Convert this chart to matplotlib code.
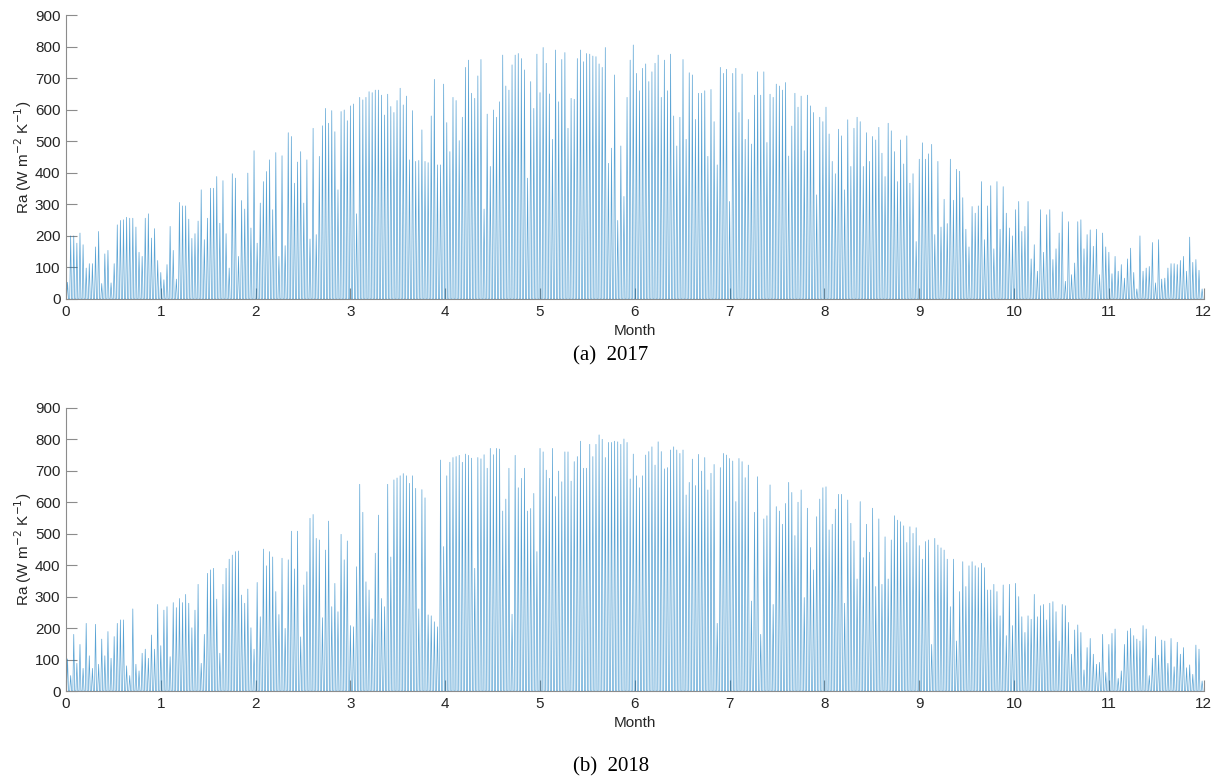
import numpy as np
import matplotlib
matplotlib.use("Agg")
import matplotlib.pyplot as plt

# daily peak of Ra (W m-2 K-1), one value per day
ra_2017 = [
    53, 200, 200, 177, 209, 172, 98, 112, 112, 165, 214, 49, 143, 154, 51, 112, 235, 249, 251, 259,
    256, 256, 228, 148, 135, 256, 270, 193, 223, 122, 84, 61, 109, 230, 154, 63, 306, 295, 295, 253,
    192, 207, 247, 346, 188, 256, 351, 351, 388, 240, 375, 207, 98, 397, 383, 135, 312, 285, 399, 225,
    470, 177,
    304, 372, 404, 441, 283, 464, 135, 454, 169, 527, 515, 367, 434, 467, 304, 441, 190, 541, 204, 452,
    549, 604, 557, 597, 530, 346, 594, 599, 565, 612, 618, 270, 639, 631, 639, 657, 654, 662, 662, 646,
    583, 649, 610, 591, 629, 668, 615, 643, 441, 597, 436, 439, 536, 436, 432, 580, 696, 425, 425, 681,
    559,
    467, 639, 629, 502, 576, 734, 757, 652, 636, 707, 759, 285, 586, 420, 599, 576, 625, 773, 675, 662,
    742, 773, 778, 762, 726, 383, 689, 604, 776, 654, 797, 747, 650, 506, 789, 625, 759, 781, 541, 636,
    633, 762, 789, 752, 778, 776, 770, 768, 745, 734, 797, 430, 478, 710, 249, 485, 325, 639, 757, 805,
    715,
    660, 731, 745, 689, 720, 747, 773, 639, 757, 660, 776, 580, 485, 576, 759, 506, 717, 710, 569, 652,
    652, 660, 452, 664, 562, 425, 734, 715, 728, 309, 715, 731, 591, 713, 506, 569, 491, 646, 720, 646,
    720, 496, 649, 639, 681, 675, 662, 686, 453, 548, 652, 608, 643, 470, 646, 612, 591, 330, 576, 562,
    608,
    523, 436, 397, 538, 517, 346, 568, 420, 541, 576, 562, 420, 527, 436, 515, 504, 544, 462, 388, 557,
    533, 467, 372, 504, 428, 517, 367, 397, 182, 443, 495, 443, 460, 490, 204, 436, 228, 316, 239, 443,
    313, 411, 405, 321, 221, 165, 293, 272, 295, 372, 188, 295, 359, 159, 372, 221, 356, 272, 225, 200,
    283,
    309, 214, 230, 309, 127, 172, 88, 283, 148, 267, 283, 125, 159, 209, 276, 56, 245, 77, 114, 245,
    251, 159, 204, 219, 167, 221, 77, 209, 165, 148, 80, 135, 88, 109, 66, 127, 161, 84, 32, 200,
    88, 98, 103, 179, 51, 188, 63, 66, 98, 112, 112, 109, 122, 135, 88, 196, 116, 125, 91, 32,
]

ra_2018 = [
    102, 49, 180, 88, 148, 72, 215, 112, 72, 212, 85, 165, 112, 189, 104, 173, 215, 226, 226, 80,
    49, 261, 85, 64, 120, 133, 104, 178, 133, 275, 144, 257, 268, 109, 281, 265, 294, 281, 307, 279,
    201, 257, 339, 88, 180, 374, 385, 390, 292, 120, 339, 390, 419, 432, 443, 445, 305, 279, 324, 201,
    133, 345,
    236, 451, 398, 443, 426, 316, 243, 422, 199, 417, 508, 388, 508, 172, 337, 379, 549, 561, 485, 480,
    233, 448, 540, 268, 342, 252, 498, 417, 477, 208, 204, 395, 657, 568, 347, 321, 229, 438, 559, 294,
    268, 657, 426, 671, 677, 684, 691, 684, 660, 684, 644, 261, 640, 614, 242, 239, 220, 204, 734, 459,
    684,
    727, 742, 745, 749, 727, 753, 749, 740, 390, 742, 738, 751, 708, 771, 751, 771, 769, 572, 610, 708,
    244, 749, 646, 676, 708, 572, 580, 628, 443, 771, 760, 702, 676, 771, 618, 699, 665, 760, 760, 667,
    729, 745, 794, 708, 708, 784, 745, 784, 814, 800, 742, 790, 790, 794, 792, 784, 801, 790, 674, 753,
    684,
    646, 684, 750, 761, 776, 718, 792, 761, 706, 710, 766, 776, 766, 755, 766, 623, 663, 737, 653, 752,
    699, 742, 639, 692, 720, 215, 710, 755, 750, 739, 731, 602, 739, 729, 678, 718, 286, 568, 681, 180,
    547, 557, 655, 275, 586, 572, 530, 596, 663, 631, 494, 600, 639, 297, 581, 456, 385, 554, 610, 646,
    649,
    512, 530, 578, 625, 625, 279, 607, 533, 477, 356, 602, 424, 530, 441, 581, 332, 547, 339, 490, 356,
    480, 557, 543, 538, 525, 472, 522, 501, 519, 462, 419, 475, 480, 148, 485, 464, 455, 448, 419, 268,
    419, 159, 316, 411, 332, 398, 411, 398, 392, 406, 392, 321, 321, 339, 316, 239, 337, 176, 339, 208,
    342,
    300, 236, 186, 239, 228, 307, 236, 271, 275, 226, 279, 284, 252, 159, 275, 271, 218, 117, 194, 210,
    186, 67, 138, 167, 117, 85, 91, 180, 59, 148, 183, 197, 40, 64, 148, 191, 199, 176, 165, 159,
    208, 197, 49, 104, 173, 114, 162, 159, 88, 167, 77, 155, 117, 138, 74, 83, 53, 146, 133, 32,
]

captions = ["(a)  2017", "(b)  2018"]
month_ticks = list(range(0, 13))
ra_ticks = list(range(0, 1000, 100))

line_col = "#0072BD"
axis_col = "#8c8c8c"
text_col = "#262626"


def day_trace(peaks):
    # one spike per day: zero at sunrise/sunset, peak at noon
    n = len(peaks)
    xs, ys = [], []
    for d, p in enumerate(peaks):
        xs += [d + 0.2, d + 0.5, d + 0.8]
        ys += [0, p, 0]
    xs = np.array(xs) * 12.0 / n
    return xs, np.array(ys)


fig = plt.figure(figsize=(12.22, 7.78), dpi=100)
plt.rcParams['font.family'] = ['Liberation Sans', 'DejaVu Sans']

boxes = [[0.054, 0.6157, 0.931, 0.365], [0.054, 0.1118, 0.931, 0.364]]
cap_y = [1 - 356 / 778, 1 - 767 / 778]

for k, peaks in enumerate([ra_2017, ra_2018]):
    ax = fig.add_axes(boxes[k])
    x, y = day_trace(peaks)
    ax.plot(x, y, color=line_col, lw=0.5, alpha=0.65)
    ax.set_xlim(0, 12)
    ax.set_ylim(0, 900)
    ax.set_xticks(month_ticks)
    ax.set_yticks(ra_ticks)
    for s in ['top', 'right']:
        ax.spines[s].set_visible(False)
    for s in ['left', 'bottom']:
        ax.spines[s].set_color(axis_col)
        ax.spines[s].set_linewidth(0.8)
    ax.tick_params(direction='in', length=8, width=0.8, color=axis_col,
                   labelsize=11, labelcolor=text_col, pad=4)
    ax.set_xlabel("Month", fontsize=11, color=text_col, labelpad=4)
    ax.set_ylabel("Ra (W m$^{-2}$ K$^{-1}$)", fontsize=11, color=text_col, labelpad=1)
    fig.text(0.5, cap_y[k], captions[k], ha='center', va='center',
             family='Liberation Serif', fontsize=15, color='black')

fig.savefig("out.png", dpi=100)
